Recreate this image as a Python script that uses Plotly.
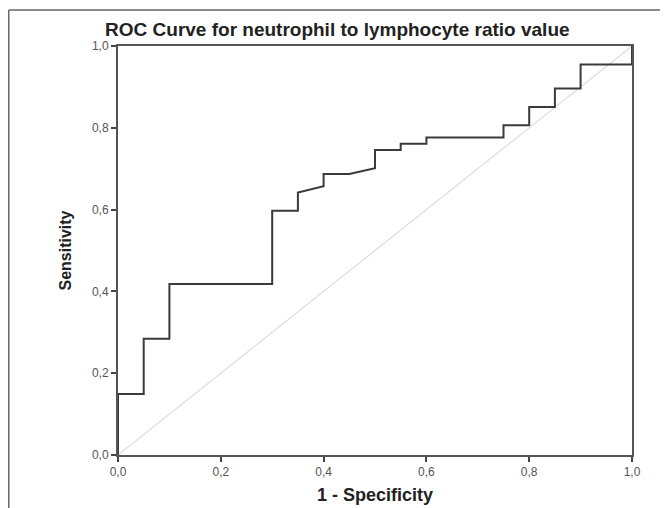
import plotly.graph_objects as go

# ROC step curve (1 - specificity, sensitivity)
fpr = [0.0, 0.0, 0.05, 0.05, 0.10, 0.10, 0.30, 0.30, 0.35, 0.35, 0.40, 0.40, 0.45, 0.50, 0.50,
       0.55, 0.55, 0.60, 0.60, 0.75, 0.75, 0.80, 0.80, 0.85, 0.85, 0.90, 0.90, 1.0, 1.0]
tpr = [0.0, 0.149, 0.149, 0.284, 0.284, 0.418, 0.418, 0.597, 0.597, 0.642, 0.657, 0.687, 0.687, 0.701, 0.746,
       0.746, 0.761, 0.761, 0.776, 0.776, 0.806, 0.806, 0.851, 0.851, 0.896, 0.896, 0.955, 0.955, 1.0]
ref_x = [0.0, 1.0]
ref_y = [0.0, 1.0]
tick_vals = [0.0, 0.2, 0.4, 0.6, 0.8, 1.0]
tick_text = ["0,0", "0,2", "0,4", "0,6", "0,8", "1,0"]

fig = go.Figure()
fig.add_trace(go.Scatter(x=ref_x, y=ref_y, mode="lines",
                         line=dict(color="#dcdcdc", width=1.2), hoverinfo="skip"))
fig.add_trace(go.Scatter(x=fpr, y=tpr, mode="lines",
                         line=dict(color="#3a3a3a", width=2)))

font_family = "Liberation Sans, Arial, sans-serif"
axis_common = dict(
    range=[0, 1], tickvals=tick_vals, ticktext=tick_text,
    showgrid=False, zeroline=False,
    showline=True, linecolor="#555555", linewidth=2, mirror=True,
    ticks="outside", ticklen=5, tickwidth=1.5, tickcolor="#444444",
    tickfont=dict(family=font_family, size=12, color="#555555"),
)

fig.update_layout(
    width=668, height=508,
    margin=dict(l=110, r=44, t=38, b=61),
    paper_bgcolor="white", plot_bgcolor="white",
    showlegend=False,
    font=dict(family=font_family),
    title=dict(text="<b>ROC Curve for neutrophil to lymphocyte ratio value</b>",
               x=0.493, xanchor="center", y=1 - 21 / 508, yanchor="middle",
               font=dict(family=font_family, size=19, color="#222222")),
    xaxis=dict(**axis_common,
               title=dict(text="<b>1 - Specificity</b>", standoff=10,
                          font=dict(family=font_family, size=18, color="#222222"))),
    yaxis=dict(**axis_common,
               title=dict(text="<b>Sensitivity</b>", standoff=16,
                          font=dict(family=font_family, size=16, color="#222222"))),
    shapes=[
        dict(type="line", xref="paper", yref="paper", x0=-0.2125, x1=-0.2125, y0=1.088, y1=-0.25,
             line=dict(color="#666666", width=1.5)),
        dict(type="line", xref="paper", yref="paper", x0=-0.2125, x1=1.066, y0=1.088, y1=1.088,
             line=dict(color="#666666", width=1.5)),
        dict(type="line", xref="paper", yref="paper", x0=1.066, x1=1.066, y0=1.088, y1=-0.25,
             line=dict(color="#dddddd", width=1)),
    ],
)

fig.write_html("out.html")
